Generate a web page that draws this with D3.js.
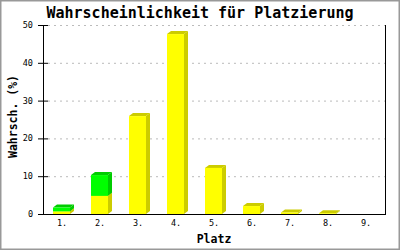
<!DOCTYPE html>
<html>
<head>
<meta charset="utf-8">
<script src="https://cdn.jsdelivr.net/npm/d3@7"></script>
<style>
  body { margin: 0; background: #fff; }
  text { font-family: "DejaVu Sans Mono", monospace; }
</style>
</head>
<body>
<svg id="chart"></svg>
<script>
// data
const places = ['1.', '2.', '3.', '4.', '5.', '6.', '7.', '8.', '9.']
const yellowVals = [0.7, 4.8, 25.9, 47.6, 12.2, 2.1, 0.4, 0.2, 0]
const greenVals = [1.0, 5.5, 0, 0, 0, 0, 0, 0, 0]
const yTicks = [0, 10, 20, 30, 40, 50]

const width = 400, height = 250
const margin = { left: 43, right: 15, top: 25, bottom: 36 }
const dx = 4, dy = 3

const svg = d3.select('#chart')
    .attr('width', width)
    .attr('height', height)

svg.append('rect')
    .attr('x', 0.5).attr('y', 0.5)
    .attr('width', width - 1).attr('height', height - 1)
    .attr('fill', '#fff')
    .attr('stroke', '#999')
    .attr('stroke-width', 2)

const x = d3.scaleBand()
    .domain(places)
    .range([margin.left, width - margin.right])

const y = d3.scaleLinear()
    .domain([0, 50])
    .range([height - margin.bottom, margin.top])

// grid
svg.append('g').selectAll('line')
    .data(yTicks.filter(d => d > 0))
    .enter().append('line')
    .attr('x1', margin.left + 5)
    .attr('x2', width - margin.right)
    .attr('y1', d => y(d) + 0.5)
    .attr('y2', d => y(d) + 0.5)
    .attr('stroke', '#bbb')
    .attr('stroke-dasharray', '2,4')

// bars
const barW = 17
const drawBlock = (g, x0, v0, v1, front, dark) => {
    if (v1 <= v0) return
    const yt = y(v1), yb = y(v0)
    g.append('polygon')
        .attr('points', [[x0 + barW, yb], [x0 + barW + dx, yb - dy], [x0 + barW + dx, yt - dy], [x0 + barW, yt]].join(' '))
        .attr('fill', dark)
    g.append('polygon')
        .attr('points', [[x0, yt], [x0 + dx, yt - dy], [x0 + barW + dx, yt - dy], [x0 + barW, yt]].join(' '))
        .attr('fill', dark)
    g.append('rect')
        .attr('x', x0).attr('y', yt)
        .attr('width', barW).attr('height', yb - yt)
        .attr('fill', front)
}

const bars = svg.append('g')
places.forEach((p, i) => {
    const x0 = x(p) + x.bandwidth() / 2 - 9
    drawBlock(bars, x0, 0, yellowVals[i], '#ffff00', '#cccc00')
    drawBlock(bars, x0, yellowVals[i], yellowVals[i] + greenVals[i], '#00ff00', '#00cc00')
})

// axes
svg.append('line')
    .attr('x1', margin.left + 0.5).attr('x2', margin.left + 0.5)
    .attr('y1', y(50)).attr('y2', y(0))
    .attr('stroke', '#000')
svg.append('line')
    .attr('x1', width - margin.right + 0.5).attr('x2', width - margin.right + 0.5)
    .attr('y1', y(50)).attr('y2', y(0))
    .attr('stroke', '#000')
svg.append('line')
    .attr('x1', margin.left - 5).attr('x2', width - margin.right + 1)
    .attr('y1', y(0) + 0.5).attr('y2', y(0) + 0.5)
    .attr('stroke', '#000')

const yAxis = svg.append('g')
yAxis.selectAll('line')
    .data(yTicks)
    .enter().append('line')
    .attr('x1', margin.left - 5).attr('x2', margin.left + 5)
    .attr('y1', d => y(d) + 0.5).attr('y2', d => y(d) + 0.5)
    .attr('stroke', '#000')
yAxis.selectAll('text')
    .data(yTicks)
    .enter().append('text')
    .attr('x', margin.left - 10)
    .attr('y', d => y(d) + 3)
    .attr('text-anchor', 'end')
    .attr('font-size', 8.5)
    .text(d => d)

svg.append('g').selectAll('text')
    .data(places)
    .enter().append('text')
    .attr('x', d => x(d) + x.bandwidth() / 2)
    .attr('y', y(0) + 12)
    .attr('text-anchor', 'middle')
    .attr('font-size', 8.5)
    .text(d => d)

// titles
svg.append('text')
    .attr('x', 200).attr('y', 18)
    .attr('text-anchor', 'middle')
    .attr('font-size', 15)
    .attr('font-weight', 'bold')
    .text('Wahrscheinlichkeit für Platzierung')

svg.append('text')
    .attr('x', (margin.left + width - margin.right) / 2)
    .attr('y', 243)
    .attr('text-anchor', 'middle')
    .attr('font-size', 11.5)
    .attr('font-weight', 'bold')
    .text('Platz')

svg.append('text')
    .attr('transform', 'translate(17,' + (y(25) - 3) + ') rotate(-90)')
    .attr('text-anchor', 'middle')
    .attr('font-size', 11.5)
    .attr('font-weight', 'bold')
    .text('Wahrsch. (%)')
</script>
</body>
</html>
